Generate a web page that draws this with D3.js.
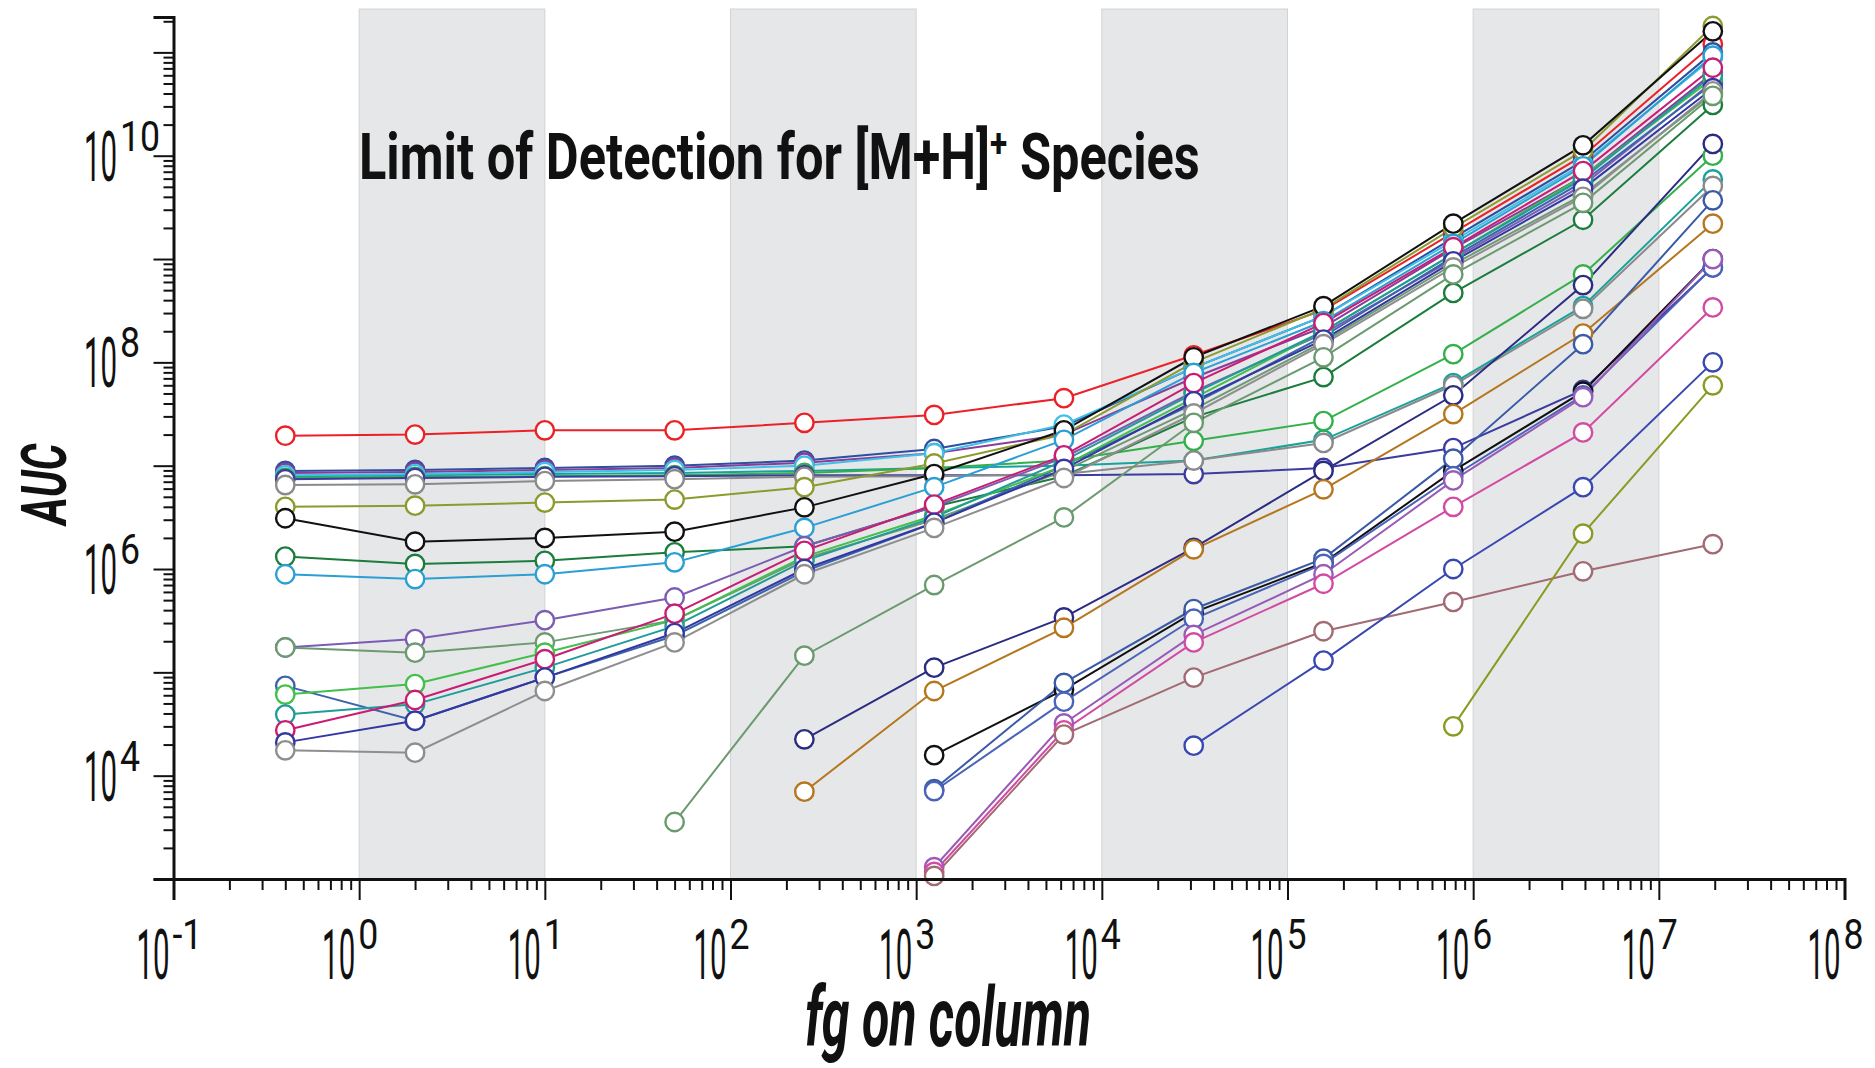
<!DOCTYPE html>
<html>
<head>
<meta charset="utf-8">
<script src="https://cdn.jsdelivr.net/npm/d3@7"></script>
<style>
  body { margin: 0; background: #ffffff; }
  text { font-family: Roboto, "Liberation Sans", "DejaVu Sans", sans-serif; fill: #111; }
</style>
</head>
<body>
<svg id="chart" width="1875" height="1068"></svg>
<script>
// Amount injected on column (fg): five-fold dilution series
const fgOnColumn = [0.4, 2, 10, 50, 250, 1250, 6250, 31250, 156250, 781250, 3906250, 19531250];

// Alternating shaded decades behind the data
const shadedDecades = [[1, 10], [100, 1e3], [1e4, 1e5], [1e6, 1e7]];

// Axis decades (powers of ten)
const xDecades = [-1, 0, 1, 2, 3, 4, 5, 6, 7, 8];
const yDecades = [3, 4, 5, 6, 7, 8, 9, 10, 11];
const yLabelDecades = [4, 6, 8, 10];

// AUC per compound ([M+H]+), null where the compound was not detected
const aucRed        = [1.95e7, 2.0e7, 2.2e7, 2.2e7, 2.6e7, 3.1e7, 4.5e7, 1.17e8, 3.2e8, 1.8e9, 1.0e10, 1.2e11];
const aucDarkBlue   = [8.9e6, 9.1e6, 9.5e6, 1.0e7, 1.12e7, 1.45e7, 2.4e7, 8.9e7, 2.8e8, 1.6e9, 8.9e9, 1.0e11];
const aucPlum       = [8.5e6, 8.7e6, 9.1e6, 9.5e6, 1.07e7, 1.32e7, 2.0e7, 7.1e7, 2.2e8, 1.26e9, 6.3e9, 6.3e10];
const aucTealFlat   = [7.9e6, 8.1e6, 8.3e6, 8.5e6, 8.9e6, 9.5e6, 1.0e7, 1.12e7, 1.78e7, 6.3e7, 3.5e8, 5.9e9];
const aucSky        = [8.1e6, 8.3e6, 8.7e6, 9.1e6, 1.0e7, 1.32e7, 2.5e7, 8.9e7, 2.8e8, 1.5e9, 8.3e9, 8.9e10];
const aucGreenFlat  = [7.6e6, 7.8e6, 7.9e6, 8.1e6, 8.5e6, 9.5e6, 1.12e7, 1.74e7, 2.7e7, 1.2e8, 7.1e8, 1.0e10];
const aucIndigoFlat = [7.4e6, 7.6e6, 7.8e6, 7.9e6, 8.1e6, 8.1e6, 8.1e6, 8.3e6, 9.5e6, 1.48e7, 5.4e7, 8.3e8];
const aucGreyFlat   = [6.5e6, 6.6e6, 7.1e6, 7.4e6, 7.8e6, 7.9e6, 8.3e6, 1.12e7, 1.66e7, 6.0e7, 3.3e8, 5.1e9];
const aucOlive      = [4.0e6, 4.1e6, 4.4e6, 4.7e6, 6.2e6, 1.05e7, 2.0e7, 1.0e8, 3.3e8, 2.0e9, 1.12e10, 1.8e11];
const aucBlack      = [3.1e6, 1.84e6, 2.0e6, 2.3e6, 3.95e6, 8.3e6, 2.2e7, 1.12e8, 3.5e8, 2.2e9, 1.26e10, 1.6e11];
const aucDarkGreen  = [1.32e6, 1.12e6, 1.2e6, 1.45e6, 1.66e6, 4.0e6, 7.9e6, 2.95e7, 7.2e7, 4.7e8, 2.4e9, 3.1e10];
const aucCyan       = [8.9e5, 8.0e5, 8.9e5, 1.16e6, 2.5e6, 6.2e6, 1.78e7, 7.9e7, 2.5e8, 1.4e9, 7.9e9, 9.3e10];
const aucPurple     = [1.74e5, 2.1e5, 3.2e5, 5.3e5, 1.66e6, 4.0e6, 1.2e7, 5.2e7, 1.9e8, 1.0e9, 5.2e9, 5.2e10];
const aucSage       = [1.74e5, 1.55e5, 1.95e5, 3.2e5, 1.26e6, 3.0e6, 8.9e6, 3.5e7, 1.58e8, 8.9e8, 4.2e9, 4.0e10];
const aucSteel      = [7.4e4, 3.4e4, 8.9e4, 2.26e5, 9.5e5, 2.8e6, 1.0e7, 4.0e7, 1.78e8, 1.05e9, 5.6e9, 5.0e10];
const aucLime       = [6.1e4, 7.7e4, 1.55e5, 3.2e5, 1.32e6, 3.3e6, 1.0e7, 4.5e7, 2.0e8, 1.12e9, 6.3e9, 5.6e10];
const aucTeal       = [3.9e4, 4.9e4, 1.11e5, 2.8e5, 1.2e6, 3.16e6, 1.12e7, 5.0e7, 2.0e8, 1.12e9, 6.0e9, 6.0e10];
const aucMagenta    = [2.75e4, 5.4e4, 1.34e5, 3.7e5, 1.5e6, 4.2e6, 1.26e7, 6.3e7, 2.4e8, 1.3e9, 7.1e9, 7.1e10];
const aucNavy       = [2.1e4, 3.4e4, 8.9e4, 2.4e5, 1.0e6, 2.8e6, 9.3e6, 4.2e7, 1.66e8, 9.5e8, 4.8e9, 4.5e10];
const aucGrey       = [1.76e4, 1.67e4, 6.6e4, 1.95e5, 8.9e5, 2.5e6, 7.6e6, 3.2e7, 1.5e8, 8.3e8, 4.0e9, 4.2e10];
const aucSageLate   = [null, null, null, 3.56e3, 1.45e5, 7.0e5, 3.16e6, 2.6e7, 1.12e8, 7.1e8, 3.5e9, 3.8e10];
const aucMidnight   = [null, null, null, null, 2.25e4, 1.11e5, 3.4e5, 1.6e6, 8.9e6, 4.8e7, 5.6e8, 1.3e10];
const aucBrown      = [null, null, null, null, 7.0e3, 6.6e4, 2.7e5, 1.55e6, 5.9e6, 3.16e7, 1.9e8, 2.2e9];
const aucBlackLate  = [null, null, null, null, null, 1.58e4, 6.8e4, 3.8e5, 1.15e6, 8.9e6, 5.2e7, 1.0e9];
const aucBlueLate   = [null, null, null, null, null, 7.4e3, 7.9e4, 4.1e5, 1.26e6, 1.17e7, 1.5e8, 3.7e9];
const aucSlateLate  = [null, null, null, null, null, 7.1e3, 5.2e4, 3.3e5, 1.12e6, 7.9e6, 4.8e7, 8.3e8];
const aucViolet     = [null, null, null, null, null, 1.3e3, 3.2e4, 2.3e5, 8.9e5, 7.2e6, 4.6e7, 1.0e9];
const aucPink       = [null, null, null, null, null, 1.17e3, 2.75e4, 1.95e5, 7.2e5, 4.0e6, 2.1e7, 3.4e8];
const aucRosy       = [null, null, null, null, null, 1.07e3, 2.5e4, 8.9e4, 2.5e5, 4.8e5, 9.5e5, 1.74e6];
const aucRoyal      = [null, null, null, null, null, null, null, 1.95e4, 1.3e5, 1.0e6, 6.2e6, 1.0e8];
const aucKhaki      = [null, null, null, null, null, null, null, null, null, 3.0e4, 2.2e6, 6.0e7];

const seriesList = [
  { values: aucRed,        color: "#ec2027" },
  { values: aucDarkBlue,   color: "#2d4f9e" },
  { values: aucPlum,       color: "#8a3c9c" },
  { values: aucTealFlat,   color: "#17a39b" },
  { values: aucSky,        color: "#3fc0e6" },
  { values: aucGreenFlat,  color: "#33b04a" },
  { values: aucIndigoFlat, color: "#3b3ba0" },
  { values: aucGreyFlat,   color: "#8a8a8a" },
  { values: aucOlive,      color: "#8c9a2e" },
  { values: aucBlack,      color: "#111111" },
  { values: aucDarkGreen,  color: "#1b7d3c" },
  { values: aucCyan,       color: "#2a9fd3" },
  { values: aucPurple,     color: "#7b5cb3" },
  { values: aucSage,       color: "#6e9a72" },
  { values: aucSteel,      color: "#3a64ad" },
  { values: aucLime,       color: "#43bf4c" },
  { values: aucTeal,       color: "#1f9c98" },
  { values: aucMagenta,    color: "#c81d72" },
  { values: aucNavy,       color: "#3238a0" },
  { values: aucGrey,       color: "#8e8e8e" },
  { values: aucSageLate,   color: "#6b9a6f" },
  { values: aucMidnight,   color: "#2b2b82" },
  { values: aucBrown,      color: "#b5761e" },
  { values: aucBlackLate,  color: "#111111" },
  { values: aucBlueLate,   color: "#3a5aa8" },
  { values: aucSlateLate,  color: "#4a63b8" },
  { values: aucViolet,     color: "#9a5ab8" },
  { values: aucPink,       color: "#d24aa2" },
  { values: aucRosy,       color: "#a26a72" },
  { values: aucRoyal,      color: "#3848b0" },
  { values: aucKhaki,      color: "#8a9a22" }
];

const svg = d3.select("#chart");

const x = d3.scaleLog().domain([0.1, 1e8]).range([173.5, 1844.5]);
const y = d3.scaleLog().domain([1e3, 2.2e11]).range([879, 17]);

// shaded decade bands
svg.append("g")
  .selectAll("rect")
  .data(shadedDecades)
  .join("rect")
  .attr("x", d => x(d[0]))
  .attr("width", d => x(d[1]) - x(d[0]))
  .attr("y", 9)
  .attr("height", 879 - 9)
  .attr("fill", "#e6e7e9")
  .attr("stroke", "#d2d3d5")
  .attr("stroke-width", 1);

// series
const rows = seriesList.map(s => ({
  color: s.color,
  pts: fgOnColumn.map((fg, i) => ({ fg, v: s.values[i] }))
}));

const line = d3.line()
  .defined(d => d.v != null)
  .x(d => x(d.fg))
  .y(d => y(d.v));

const plot = svg.append("g");
plot.append("g")
  .selectAll("path")
  .data(rows)
  .join("path")
  .attr("d", d => line(d.pts))
  .attr("fill", "none")
  .attr("stroke", d => d.color)
  .attr("stroke-width", 2);

const markers = plot.append("g");
rows.forEach(r => {
  markers.append("g")
    .selectAll("circle")
    .data(r.pts.filter(p => p.v != null))
    .join("circle")
    .attr("cx", d => x(d.fg))
    .attr("cy", d => y(d.v))
    .attr("r", 9.2)
    .attr("fill", "#ffffff")
    .attr("stroke", r.color)
    .attr("stroke-width", 2.4);
});

// axes
const xMajor = xDecades.map(k => Math.pow(10, k));
const xMinor = [];
xDecades.slice(0, -1).forEach(k => { for (let m = 2; m <= 9; m++) xMinor.push(m * Math.pow(10, k)); });
const yMajor = yDecades.map(k => Math.pow(10, k));
const yMinor = [];
yDecades.forEach(k => { for (let m = 2; m <= 9; m++) { const v = m * Math.pow(10, k); if (v < 2.2e11) yMinor.push(v); } });

function styleAxis(g, domainVisible) {
  g.select(".domain").attr("stroke", "#111").attr("stroke-width", 3).attr("display", domainVisible ? null : "none");
  g.selectAll(".tick line").attr("stroke", "#111").attr("stroke-width", 2);
  g.selectAll(".tick text").remove();
}

svg.append("g").attr("transform", "translate(0,879)")
  .call(d3.axisBottom(x).tickValues(xMinor).tickSize(11).tickSizeOuter(0).tickFormat(""))
  .call(g => styleAxis(g, false));
svg.append("g").attr("transform", "translate(0,879)")
  .call(d3.axisBottom(x).tickValues(xMajor).tickSize(21).tickSizeOuter(21).tickFormat(""))
  .call(g => styleAxis(g, true));
svg.append("g").attr("transform", "translate(173.5,0)")
  .call(d3.axisLeft(y).tickValues(yMinor).tickSize(10).tickSizeOuter(0).tickFormat(""))
  .call(g => styleAxis(g, false));
svg.append("g").attr("transform", "translate(173.5,0)")
  .call(d3.axisLeft(y).tickValues(yMajor).tickSize(20).tickSizeOuter(20).tickFormat(""))
  .call(g => styleAxis(g, true));

// power-of-ten tick labels: tall condensed base, wider exponent
const baseSqueeze = 0.42;
const expSqueeze = 0.85;
const labelSize = 70;
const expSize = 42;

function powerLabel(g, k) {
  g.append("text")
    .attr("transform", `scale(${baseSqueeze},1)`)
    .attr("x", -4 / baseSqueeze).attr("text-anchor", "end")
    .attr("font-size", labelSize).text("10");
  g.append("text")
    .attr("transform", `translate(-1,-30) scale(${expSqueeze},1)`)
    .attr("text-anchor", "start")
    .attr("font-size", expSize).text(String(k));
}

const xLabels = svg.append("g");
xDecades.forEach(k => {
  powerLabel(xLabels.append("g").attr("transform", `translate(${x(Math.pow(10, k))},979)`), k);
});

const yLabels = svg.append("g");
yLabelDecades.forEach(k => {
  powerLabel(yLabels.append("g").attr("transform", `translate(121,${y(Math.pow(10, k)) + 25})`), k);
});

// horizontal scale factor that makes a text node span a target width
function fitWidth(node, target) {
  const w = node.getBBox().width;
  return target / w;
}

// chart title
const title = svg.append("text")
  .attr("font-weight", 700).attr("font-size", 64);
title.append("tspan").text("Limit of Detection for [M+H]");
title.append("tspan").attr("font-size", 40).attr("dy", -22).text("+");
title.append("tspan").attr("dy", 22).text(" Species");
const tScale = fitWidth(title.node(), 841);
title.attr("transform", `translate(359,179) scale(${tScale},1)`);

// y axis title
const yTitle = svg.append("text")
  .attr("font-weight", 700).attr("font-style", "italic").attr("font-size", 62)
  .attr("text-anchor", "middle").text("AUC");
const yScaleT = fitWidth(yTitle.node(), 84);
yTitle.attr("transform", `translate(66,484) rotate(-90) scale(${yScaleT},1)`);

// x axis title
const xTitle = svg.append("text")
  .attr("font-weight", 700).attr("font-style", "italic").attr("font-size", 84)
  .attr("text-anchor", "middle").text("fg on column");
const xScaleT = fitWidth(xTitle.node(), 286);
xTitle.attr("transform", `translate(948,1046) scale(${xScaleT},1)`);
</script>
</body>
</html>
